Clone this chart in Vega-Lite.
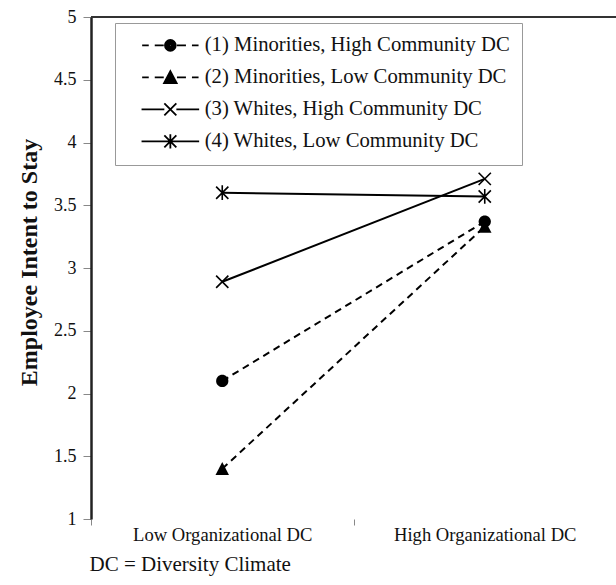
{
  "$schema": "https://vega.github.io/schema/vega-lite/v6.json",
  "width": 525,
  "height": 502,
  "autosize": "none",
  "padding": {"left": 91, "top": 17, "right": 0, "bottom": 66},
  "background": "white",
  "config": {"view": {"stroke": null}, "font": "Liberation Serif"},
  "data": {
    "values": [
      {"org": "Low Organizational DC", "group": "(1) Minorities, High Community DC", "race": "Minorities", "value": 2.1},
      {"org": "High Organizational DC", "group": "(1) Minorities, High Community DC", "race": "Minorities", "value": 3.37},
      {"org": "Low Organizational DC", "group": "(2) Minorities, Low Community DC", "race": "Minorities", "value": 1.4},
      {"org": "High Organizational DC", "group": "(2) Minorities, Low Community DC", "race": "Minorities", "value": 3.33},
      {"org": "Low Organizational DC", "group": "(3) Whites, High Community DC", "race": "Whites", "value": 2.89},
      {"org": "High Organizational DC", "group": "(3) Whites, High Community DC", "race": "Whites", "value": 3.71},
      {"org": "Low Organizational DC", "group": "(4) Whites, Low Community DC", "race": "Whites", "value": 3.6},
      {"org": "High Organizational DC", "group": "(4) Whites, Low Community DC", "race": "Whites", "value": 3.57}
    ]
  },
  "encoding": {
    "x": {
      "field": "org", "type": "nominal",
      "scale": {"type": "band", "domain": ["Low Organizational DC", "High Organizational DC"], "paddingInner": 0, "paddingOuter": 0},
      "axis": {
        "title": "DC = Diversity Climate",
        "domain": false, "grid": false,
        "tickBand": "extent", "tickColor": "#888", "tickSize": 6, "tickWidth": 1,
        "labelAngle": 0, "labelFont": "Liberation Serif", "labelFontSize": 18.6, "labelColor": "#111", "labelPadding": 0, "labelLimit": 400,
        "titleFont": "Liberation Serif", "titleFontSize": 21, "titleFontWeight": "normal", "titleColor": "#111",
        "titleAnchor": "start", "titleAlign": "left", "titleX": -2, "titleY": 51, "titleBaseline": "alphabetic"
      }
    },
    "y": {
      "field": "value", "type": "quantitative",
      "scale": {"domain": [1, 5], "nice": false, "zero": false},
      "axis": {
        "title": "Employee Intent to Stay",
        "values": [1, 1.5, 2, 2.5, 3, 3.5, 4, 4.5, 5],
        "labelExpr": "'' + datum.value",
        "grid": false,
        "domainColor": "#222", "domainWidth": 2.5,
        "tickColor": "#888", "tickSize": 8, "tickWidth": 1,
        "labelFont": "Liberation Serif", "labelFontSize": 18, "labelColor": "#111", "labelPadding": 7,
        "titleFont": "Liberation Serif", "titleFontSize": 24, "titleFontWeight": "bold", "titleColor": "#111",
        "titleAngle": 270, "titleBaseline": "middle", "titleX": -62, "titleY": 245
      }
    }
  },
  "layer": [
    {
      "transform": [{"filter": "datum.race == 'Minorities'"}],
      "mark": {"type": "line", "color": "black", "strokeWidth": 2, "strokeDash": [7, 5]},
      "encoding": {"detail": {"field": "group", "type": "nominal"}}
    },
    {
      "transform": [{"filter": "datum.race == 'Whites'"}],
      "mark": {"type": "line", "color": "black", "strokeWidth": 2},
      "encoding": {"detail": {"field": "group", "type": "nominal"}}
    },
    {
      "mark": {"type": "point", "filled": false, "color": "black", "opacity": 0, "size": 150},
      "encoding": {
        "shape": {
          "field": "group", "type": "nominal",
          "scale": {
            "domain": ["(1) Minorities, High Community DC", "(2) Minorities, Low Community DC", "(3) Whites, High Community DC", "(4) Whites, Low Community DC"],
            "range": [
              "M0.8,0H1.9M2.9,0H4.4M6.6,0H8.1M9.1,0H10.2M6.4,0A0.9,0.9 0 1,1 4.6,0A0.9,0.9 0 1,1 6.4,0ZM6.1,0A0.6,0.6 0 1,1 4.9,0A0.6,0.6 0 1,1 6.1,0ZM5.8,0A0.3,0.3 0 1,1 5.2,0A0.3,0.3 0 1,1 5.8,0ZM5.6,0A0.1,0.1 0 1,1 5.4,0A0.1,0.1 0 1,1 5.6,0Z",
              "M0.8,0H1.9M2.9,0H4.4M6.6,0H8.1M9.1,0H10.2M5.5,-1.03L6.55,0.97L4.45,0.97ZM5.5,-0.54L6.16,0.72L4.84,0.72ZM5.5,-0.12L5.83,0.51L5.17,0.51ZM5.4,0.3H5.6",
              "M0.7,0H4.5M6.5,0H10.3M4.5,-1L6.5,1M4.5,1L6.5,-1",
              "M0.7,0H10.3M4.5,-1L6.5,1M4.5,1L6.5,-1M5.5,-1.2V1.2"
            ]
          },
          "legend": {
            "title": null,
            "orient": "none", "legendX": 24, "legendY": 6,
            "strokeColor": "#999", "fillColor": "white",
            "padding": 12, "rowPadding": 10,
            "symbolSize": 144, "symbolStrokeWidth": 1.8, "symbolOpacity": 1,
            "symbolStrokeColor": "black",
            "labelFont": "Liberation Serif", "labelFontSize": 20.7, "labelColor": "#111",
            "labelOffset": 57, "labelLimit": 500
          }
        }
      }
    },
    {
      "transform": [{"filter": "datum.group == '(1) Minorities, High Community DC'"}],
      "mark": {"type": "point", "filled": true, "color": "black", "opacity": 1, "size": 150, "shape": "M1,0A1,1 0 1,1 -1,0A1,1 0 1,1 1,0Z"}
    },
    {
      "transform": [{"filter": "datum.group == '(2) Minorities, Low Community DC'"}],
      "mark": {"type": "point", "filled": true, "color": "black", "opacity": 1, "size": 150, "shape": "M0,-1.1L1.1,1L-1.1,1Z"}
    },
    {
      "transform": [{"filter": "datum.group == '(3) Whites, High Community DC'"}],
      "mark": {"type": "point", "filled": false, "color": "black", "opacity": 1, "strokeWidth": 1.6, "size": 150, "shape": "M-1,-1L1,1M-1,1L1,-1"}
    },
    {
      "transform": [{"filter": "datum.group == '(4) Whites, Low Community DC'"}],
      "mark": {"type": "point", "filled": false, "color": "black", "opacity": 1, "strokeWidth": 1.6, "size": 150, "shape": "M-1,-1L1,1M-1,1L1,-1M0,-1.2V1.2"}
    },
    {
      "mark": {"type": "rule", "color": "#333", "strokeWidth": 2},
      "encoding": {"x": null, "y": {"datum": 5, "type": "quantitative"}}
    }
  ]
}
